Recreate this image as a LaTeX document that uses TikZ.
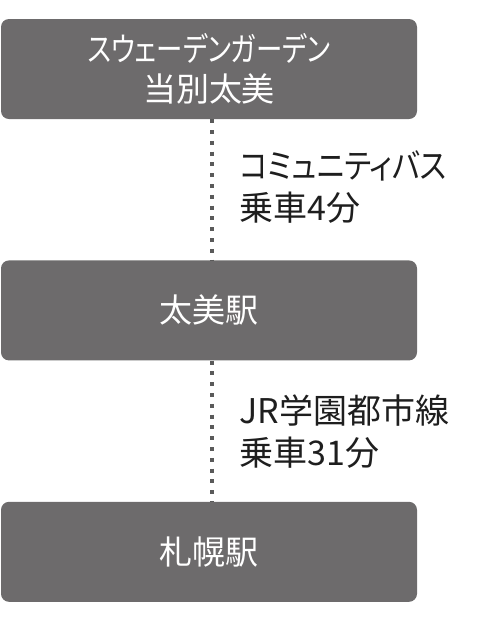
\documentclass[tikz,border=0pt]{standalone}
\usepackage{fontspec}
\usepackage{graphicx}
\setmainfont{Noto Sans CJK JP}[RawFeature=+palt]
\usetikzlibrary{positioning}
\definecolor{boxgray}{HTML}{6D6B6C}
\definecolor{dotgray}{HTML}{5A5A5A}
\definecolor{inkgray}{HTML}{1E1E1E}
\newcommand{\kana}[2][0.87]{\scalebox{#1}[1]{#2}}

\begin{document}
\begin{tikzpicture}[node distance=141pt,auto,
    box/.style={fill=boxgray,rounded corners=8pt,minimum width=416pt,minimum height=100pt,
                inner sep=0pt,text=white,align=center,font=\fontsize{33}{40}\selectfont},
    ride/.style={draw=dotgray,line width=3.5pt,dash pattern=on 4pt off 6.8pt},
    how/.style={text=inkgray,align=left,inner xsep=26pt,font=\fontsize{34}{42}\selectfont}]
                \useasboundingbox (0,0) rectangle (483pt,-630pt);
                \node[box] (0) at (209pt,-69pt) {\kana[0.8]{スウェーデンガーデン}\\当別太美};
                \node[box] (1) [below=of 0] {太美駅};
                \node[box] (2) [below=of 1] {札幌駅};

                \path
                ([xshift=3pt]0.south) edge[ride] node[how,yshift=3pt] {\kana{コミュニティバス}\\乗車4分} ([xshift=3pt]1.north)
                ([xshift=3pt]1.south) edge[ride] node[how] {JR学園都市線\\乗車31分} ([xshift=3pt]2.north)
                ;
            \end{tikzpicture}
\end{document}
